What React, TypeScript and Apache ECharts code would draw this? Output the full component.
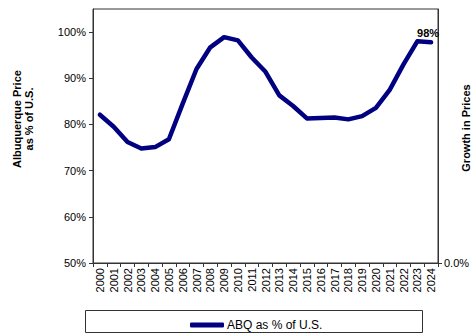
import React, { useEffect, useRef } from "react";
import * as echarts from "echarts";

const years: string[] = [
  "2000", "2001", "2002", "2003", "2004", "2005", "2006", "2007", "2008", "2009",
  "2010", "2011", "2012", "2013", "2014", "2015", "2016", "2017", "2018", "2019",
  "2020", "2021", "2022", "2023", "2024",
];

// Albuquerque median price as a share of the U.S. median (%)
const abqShare: number[] = [
  82.1, 79.5, 76.2, 74.8, 75.1, 76.8, 84.5, 92.0, 96.7, 98.9,
  98.2, 94.5, 91.4, 86.3, 84.0, 81.3, 81.4, 81.5, 81.1, 81.8,
  83.6, 87.5, 93.0, 98.0, 97.8,
];

const leftTicks: number[] = [50, 60, 70, 80, 90, 100];
const rightTicks: number[] = [0];

const FONT = "Liberation Sans, Arial, sans-serif";
const NAVY = "#000080";

export default function App() {
  const ref = useRef<HTMLDivElement>(null);

  useEffect(() => {
    if (!ref.current) return;
    const chart = echarts.init(ref.current, null, { renderer: "svg" });
    const last = abqShare.length - 1;
    chart.setOption({
      animation: false,
      backgroundColor: "#ffffff",
      textStyle: { fontFamily: FONT, color: "#000" },
      grid: {
        left: 93,
        right: 36,
        top: 9,
        bottom: 72,
        show: true,
        borderColor: "#333",
        borderWidth: 1,
        backgroundColor: "transparent",
      },
      legend: {
        show: true,
        left: 185,
        top: 314,
        itemWidth: 34,
        itemHeight: 5,
        itemGap: 4,
        icon: "roundRect",
        textStyle: { fontFamily: FONT, fontSize: 12, color: "#000", padding: [0, 0, 0, -2] },
        data: [{ name: "ABQ as % of U.S." }],
      },
      xAxis: {
        type: "category",
        data: years,
        boundaryGap: true,
        axisLine: { show: true, lineStyle: { color: "#333", width: 1 } },
        axisTick: { show: true, length: 4, lineStyle: { color: "#333" }, alignWithLabel: false },
        axisLabel: {
          rotate: 90,
          interval: 0,
          fontSize: 11,
          color: "#000",
          fontFamily: FONT,
          margin: 5,
        },
        splitLine: { show: false },
      },
      yAxis: [
        {
          type: "value",
          min: 50,
          max: 105,
          interval: 10,
          position: "left",
          axisLine: { show: true, lineStyle: { color: "#333", width: 1 } },
          axisTick: { show: true, length: 4, lineStyle: { color: "#333" }, customValues: leftTicks },
          axisLabel: {
            fontSize: 11,
            color: "#000",
            fontFamily: FONT,
            margin: 7,
            customValues: leftTicks,
            formatter: (v: number) => `${v}%`,
          },
          splitLine: { show: false },
        },
        {
          type: "value",
          min: 0,
          max: 1,
          position: "right",
          axisLine: { show: true, lineStyle: { color: "#333", width: 1 } },
          axisTick: { show: true, length: 4, lineStyle: { color: "#333" }, customValues: rightTicks },
          axisLabel: {
            fontSize: 11,
            color: "#000",
            fontFamily: FONT,
            margin: 6,
            customValues: rightTicks,
            formatter: (v: number) => `${v.toFixed(1)}%`,
          },
          splitLine: { show: false },
        },
      ],
      series: [
        {
          name: "ABQ as % of U.S.",
          type: "line",
          yAxisIndex: 0,
          data: abqShare.map((v, i) =>
            i === last
              ? {
                  value: v,
                  label: {
                    show: true,
                    position: "top",
                    distance: 4,
                    offset: [-3, 0],
                    formatter: `${Math.round(v)}%`,
                    fontFamily: FONT,
                    fontSize: 11,
                    fontWeight: "bold",
                    color: "#000",
                  },
                }
              : v
          ),
          showSymbol: true,
          symbol: "circle",
          symbolSize: 0,
          lineStyle: { color: NAVY, width: 4.5, join: "round", cap: "round" },
          itemStyle: { color: NAVY },
        },
      ],
      graphic: [
        {
          type: "rect",
          shape: { x: 85.5, y: 310.5, width: 337, height: 22 },
          style: { fill: "none", stroke: "#333", lineWidth: 1 },
          silent: true,
        },
        {
          type: "text",
          x: 23,
          y: 119,
          rotation: Math.PI / 2,
          style: {
            text: "Albuquerque Price\nas % of U.S.",
            fontFamily: FONT,
            fontSize: 11,
            fontWeight: "bold",
            fill: "#000",
            align: "center",
            verticalAlign: "middle",
            lineHeight: 12,
          },
        },
        {
          type: "text",
          x: 466,
          y: 128,
          rotation: Math.PI / 2,
          style: {
            text: "Growth in Prices",
            fontFamily: FONT,
            fontSize: 11,
            fontWeight: "bold",
            fill: "#000",
            align: "center",
            verticalAlign: "middle",
          },
        },
      ],
    });
    return () => chart.dispose();
  }, []);

  return (
    <div
      ref={ref}
      style={{ position: "fixed", left: 0, top: 0, width: 474, height: 335 }}
    />
  );
}
